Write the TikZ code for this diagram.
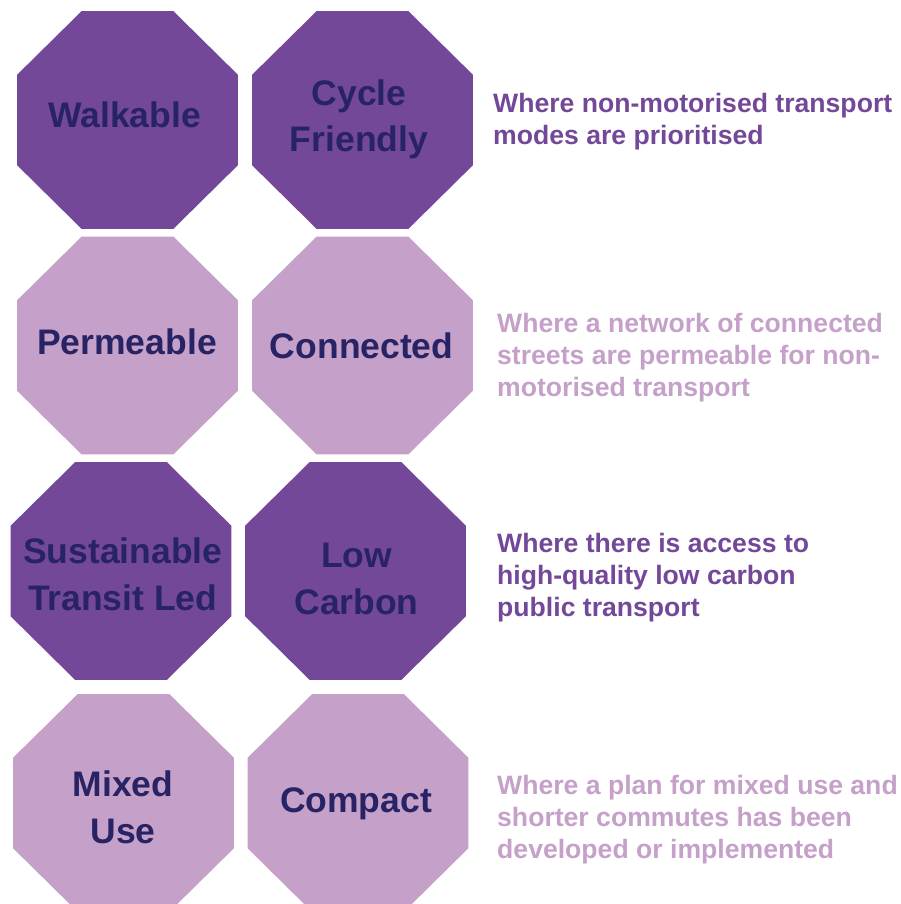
\documentclass[tikz,border=0pt]{standalone}
\usepackage{fontspec}
\setmainfont{Liberation Sans}
\usetikzlibrary{shapes.geometric}

\definecolor{darkplum}{RGB}{115,72,153}
\definecolor{lightplum}{RGB}{197,160,201}
\definecolor{navytext}{RGB}{40,35,100}

\tikzset{
  octa/.style={regular polygon, regular polygon sides=8, minimum size=239.2pt,
    inner sep=0pt, outer sep=0pt, yscale=0.9864},
  octadark/.style={octa, fill=darkplum},
  octalight/.style={octa, fill=lightplum},
  octatext/.style={anchor=base, align=center, inner sep=0pt, text=navytext,
    font=\fontsize{35.5}{46.5}\selectfont\bfseries},
  desc/.style={anchor=base west, align=left, inner sep=0pt,
    font=\fontsize{26.6}{32}\selectfont\bfseries},
}

\begin{document}
\begin{tikzpicture}[x=1pt,y=-1pt]
    % Page
    \useasboundingbox (0,0) rectangle (901,904);
    \clip (0,0) rectangle (901,904);

    % Octagons, row by row
    \node[octadark] (walk) at (127.5,120) {};
    \node[octadark] (cycle) at (362.5,120) {};

    \node[octalight] (perm) at (127.5,345.5) {};
    \node[octalight] (conn) at (362.5,345.5) {};

    \node[octadark] (transit) at (121,571) {};
    \node[octadark] (lowc) at (355.5,571) {};

    \node[octalight] (mixed) at (123.5,803) {};
    \node[octalight] (compact) at (358,803) {};

    % Octagon labels (base = last line)
    \node[octatext] (walk-t) at (124.5,128) {Walkable};
    \node[octatext] (cycle-t) at (359,152) {Cycle\\Friendly};
    \node[octatext] (perm-t) at (127,354) {Permeable};
    \node[octatext] (conn-t) at (361.7,358) {Connected};
    \node[octatext] (transit-t) at (122.7,610) {Sustainable\\Transit Led};
    \node[octatext] (lowc-t) at (356.5,614) {Low\\Carbon};
    \node[octatext] (mixed-t) at (123,843) {Mixed\\Use};
    \node[octatext] (compact-t) at (356,812) {Compact};

    % Descriptions
    \node[desc, text=darkplum] (desc1) at (493,145)
        {Where non-motorised transport\\modes are prioritised};
    \node[desc, text=lightplum] (desc2) at (497,396)
        {Where a network of connected\\streets are permeable for non-\\motorised transport};
    \node[desc, text=darkplum] (desc3) at (497,616)
        {Where there is access to\\high-quality low carbon\\public transport};
    \node[desc, text=lightplum] (desc4) at (497,858)
        {Where a plan for mixed use and\\shorter commutes has been\\developed or implemented};
\end{tikzpicture}
\end{document}
